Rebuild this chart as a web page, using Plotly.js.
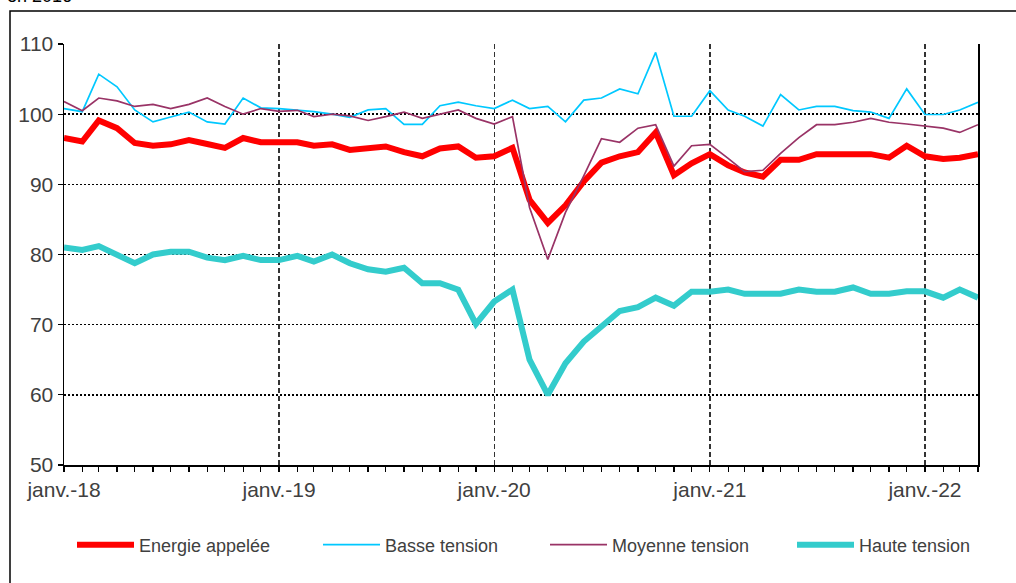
<!DOCTYPE html>
<html>
<head>
<meta charset="utf-8">
<script src="https://cdn.plot.ly/plotly-3.0.1.min.js"></script>
<style>html,body{margin:0;padding:0;background:#fff;}#chart{width:1016px;height:583px;}</style>
</head>
<body>
<div id="chart"></div>
<script>
var months = [
 '2018-01-01','2018-02-01','2018-03-01','2018-04-01','2018-05-01','2018-06-01','2018-07-01','2018-08-01','2018-09-01','2018-10-01','2018-11-01','2018-12-01',
 '2019-01-01','2019-02-01','2019-03-01','2019-04-01','2019-05-01','2019-06-01','2019-07-01','2019-08-01','2019-09-01','2019-10-01','2019-11-01','2019-12-01',
 '2020-01-01','2020-02-01','2020-03-01','2020-04-01','2020-05-01','2020-06-01','2020-07-01','2020-08-01','2020-09-01','2020-10-01','2020-11-01','2020-12-01',
 '2021-01-01','2021-02-01','2021-03-01','2021-04-01','2021-05-01','2021-06-01','2021-07-01','2021-08-01','2021-09-01','2021-10-01','2021-11-01','2021-12-01',
 '2022-01-01','2022-02-01','2022-03-01','2022-04-01'
];
var energie = [96.6,96.1,99.1,98.0,95.9,95.5,95.7,96.3,95.75,95.2,96.6,96.0,
 96.0,96.0,95.5,95.7,94.9,95.1,95.4,94.6,94.0,95.1,95.4,93.8,
 94.0,95.2,87.8,84.5,87.0,90.4,93.1,94.0,94.6,97.4,91.3,93.0,
 94.3,92.7,91.7,91.1,93.5,93.5,94.3,94.3,94.3,94.3,93.8,95.5,
 94.0,93.6,93.8,94.3];
var basse = [100.8,100.35,105.7,103.9,100.6,98.9,99.6,100.3,98.9,98.6,102.3,100.9,
 100.8,100.6,100.35,100.0,99.55,100.6,100.8,98.55,98.55,101.2,101.7,101.2,
 100.8,102.0,100.8,101.1,98.9,102.0,102.3,103.6,102.9,108.8,99.7,99.7,
 103.35,100.6,99.7,98.3,102.8,100.6,101.1,101.1,100.5,100.3,99.4,103.6,
 99.95,99.95,100.6,101.7];
var moyenne = [101.8,100.5,102.3,101.9,101.1,101.4,100.8,101.4,102.3,101.1,100.0,100.8,
 100.4,100.55,99.65,100.0,99.75,99.1,99.65,100.3,99.4,100.0,100.6,99.4,
 98.6,99.65,86.7,79.3,86.0,91.2,96.5,96.0,98.0,98.5,92.6,95.5,
 95.7,93.7,91.8,92.0,94.4,96.65,98.5,98.5,98.85,99.4,98.85,98.6,
 98.3,98.0,97.4,98.5];
var haute = [81.0,80.65,81.2,80.0,78.75,80.0,80.4,80.4,79.55,79.2,79.8,79.2,
 79.2,79.8,79.0,80.0,78.75,77.9,77.55,78.1,75.9,75.9,75.0,70.1,
 73.3,75.0,65.0,60.0,64.5,67.6,69.8,71.95,72.5,73.85,72.7,74.7,
 74.7,75.0,74.4,74.4,74.4,75.0,74.7,74.7,75.3,74.4,74.4,74.75,
 74.75,73.85,75.0,73.85];
var seriesNames = ['Energie appelée','Basse tension','Moyenne tension','Haute tension'];
var tickVals = ['2018-01-01','2019-01-01','2020-01-01','2021-01-01','2022-01-01'];
var tickText = ['janv.-18','janv.-19','janv.-20','janv.-21','janv.-22'];
var yTicks = [50,60,70,80,90,100,110];
var noteText = 'en 2016';

var FONT = 'Liberation Sans, Arial, sans-serif';
var TXT = '#404040';

var traces = [
 {x: months, y: energie, name: seriesNames[0], mode:'lines', line:{color:'#ff0000', width:6}, legend:'legend'},
 {x: months, y: basse, name: seriesNames[1], mode:'lines', line:{color:'#00c8ff', width:1.7}, legend:'legend2'},
 {x: months, y: moyenne, name: seriesNames[2], mode:'lines', line:{color:'#993366', width:1.7}, legend:'legend3'},
 {x: months, y: haute, name: seriesNames[3], mode:'lines', line:{color:'#33cccc', width:6}, legend:'legend4'}
];
traces.forEach(function(t){ t.hoverinfo='skip'; });

var L=64, R=978, T=44, B=465, W=1016, H=583;
function px(x){ return (x-L)/(R-L); }
function py(y){ return (B-y)/(B-T); }

function leg(xPix){
  return {orientation:'h', x: px(xPix), y: py(545), xanchor:'left', yanchor:'middle',
   font:{family:FONT, size:18, color:TXT}, itemwidth:57,
   bgcolor:'rgba(0,0,0,0)', itemclick:false, itemdoubleclick:false};
}

var layout = {
 width: W, height: H,
 margin: {l:L, r:W-R, t:T, b:H-B, pad:0},
 paper_bgcolor:'#ffffff', plot_bgcolor:'#ffffff',
 font: {family: FONT, color: TXT, size: 18},
 showlegend: true,
 legend: leg(72), legend2: leg(318), legend3: leg(545), legend4: leg(792),
 xaxis: {type:'date', range:['2018-01-01','2022-04-01'], tickvals: tickVals, ticktext: tickText,
   ticks:'outside', ticklen:5, tickwidth:1.2, tickcolor:'#000',
   tickfont:{family:FONT, size:21, color:TXT},
   showline:true, linecolor:'#000', linewidth:1.5,
   showgrid:true, gridcolor:'#333333', gridwidth:1.3, griddash:'5px,3px',
   minor:{dtick:'M1', tick0:'2018-01-01', ticks:'outside', ticklen:5, tickwidth:1.2, tickcolor:'#000', showgrid:false},
   zeroline:false, fixedrange:true},
 yaxis: {range:[50,110], tickvals: yTicks, ticks:'outside', ticklen:5, tickwidth:1.2, tickcolor:'#000',
   tickfont:{family:FONT, size:21, color:TXT},
   showline:true, linecolor:'#000', linewidth:1.5, mirror:true,
   showgrid:true, gridcolor:'#000000', gridwidth:1.5, griddash:'2px,2px',
   zeroline:false, fixedrange:true},
 shapes: [
   {type:'rect', xref:'paper', yref:'paper', x0:px(10), x1:px(1030), y0:py(600), y1:py(11),
    line:{color:'#000', width:1.5}, fillcolor:'rgba(0,0,0,0)', layer:'below'}
 ],
 annotations: [
   {text: noteText, xref:'paper', yref:'paper', x:px(5), y:py(-4), xanchor:'left', yanchor:'middle',
    showarrow:false, font:{family:FONT, size:18, color:'#000'}}
 ]
};

Plotly.newPlot('chart', traces, layout, {displayModeBar:false, staticPlot:true});
</script>
</body>
</html>
